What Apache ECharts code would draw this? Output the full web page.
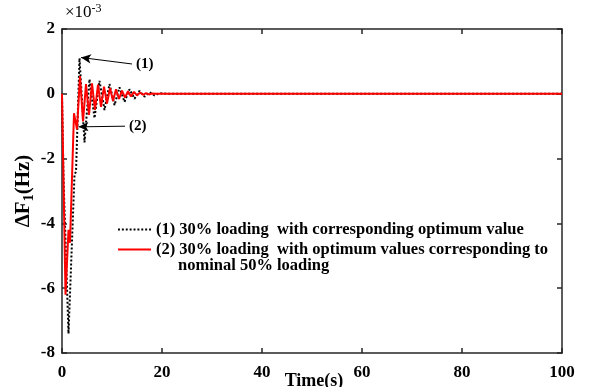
<!DOCTYPE html>
<html>
<head>
<meta charset="utf-8">
<script src="https://cdn.jsdelivr.net/npm/echarts@6/dist/echarts.min.js"></script>
<style>html,body{margin:0;padding:0;background:#fff}#c{width:590px;height:387px}</style>
</head>
<body>
<div id="c"></div>
<script>
// Time (s) and ΔF1 (×10^-3 Hz)
var timeS1 = [0, 0.3, 1.3, 2.5, 2.8, 3.5, 4.5, 5.5, 6.5, 7.5, 8.5, 9.5, 10.5, 11.5, 12.5, 13.5, 14.5, 15.5, 16.5, 17.5, 18.5, 19.5, 21, 100];
var dF1_s1 = [0, -2.6, -7.4, -2.5, -2.4, 1.1, -1.5, 0.45, -0.75, 0.4, -0.5, 0.3, -0.35, 0.2, -0.25, 0.14, -0.15, 0.09, -0.09, 0.05, -0.05, 0.02, 0, 0];
var timeS2 = [0, 0.7, 1.3, 1.6, 2.4, 3.0, 3.6, 4.2, 4.8, 5.4, 6.0, 6.6, 7.2, 7.8, 8.4, 9.0, 9.6, 10.2, 10.8, 11.4, 12.0, 12.6, 13.2, 13.8, 14.4, 15.0, 15.6, 16.2, 16.8, 17.4, 18.0, 19, 100];
var dF1_s2 = [0, -6.2, -4.2, -4.6, -0.6, -1.1, 0.55, -0.85, 0.3, -0.65, 0.32, -0.5, 0.28, -0.4, 0.22, -0.3, 0.18, -0.22, 0.14, -0.16, 0.1, -0.12, 0.08, -0.08, 0.06, -0.05, 0.04, -0.03, 0.02, -0.02, 0.01, 0, 0];
var xTicks = [0, 20, 40, 60, 80, 100];
var yTicks = [-8, -6, -4, -2, 0, 2];
var seriesNames = ['(1) 30% loading  with corresponding optimum value', '(2) 30% loading  with optimum values corresponding to'];
var legendCont = 'nominal 50% loading';
var ann1 = {text: '(1)', from: [14, 0.92], to: [3.8, 1.12]};
var ann2 = {text: '(2)', from: [12.6, -1.0], to: [3.3, -1.02]};

function zip(a, b) { return a.map(function (v, i) { return [v, b[i]]; }); }
var FF = 'Liberation Serif';
var axisCol = '#262626';
var dotPath = 'path://';
for (var i = 0; i < 9; i++) dotPath += 'M' + (i * 4) + ',0h2v2h-2z';
var chart = echarts.init(document.getElementById('c'));
function arrowML(a) {
  return {
    silent: true, symbol: ['none', 'arrow'], symbolSize: [7, 10],
    lineStyle: {type: 'solid', color: '#000', width: 1},
    label: {show: true, position: 'start', formatter: a.text, distance: 4,
      fontFamily: FF, fontWeight: 'bold', fontSize: 15, color: '#000'},
    data: [[{coord: a.from}, {coord: a.to}]]
  };
}
var tickLbl = {fontFamily: FF, fontWeight: 'bold', fontSize: 17, color: '#000'};
chart.setOption({
  animation: false,
  grid: {left: 62, right: 28, top: 29, bottom: 34, outerBoundsMode: 'none', containLabel: false},
  xAxis: [{
    type: 'value', min: 0, max: 100, interval: 20,
    axisLine: {show: true, onZero: false, lineStyle: {color: axisCol, width: 1.5}},
    axisTick: {inside: true, length: 5, lineStyle: {color: axisCol, width: 1.5}},
    axisLabel: Object.assign({margin: 11}, tickLbl),
    splitLine: {show: false},
    name: 'Time(s)', nameLocation: 'middle', nameGap: 19, nameMoveOverlap: false,
    nameTextStyle: {fontFamily: FF, fontWeight: 'bold', fontSize: 18, color: '#000', padding: [0, 0, 0, 4]}
  }, {
    type: 'value', min: 0, max: 100, interval: 20, position: 'top',
    axisLine: {show: true, onZero: false, lineStyle: {color: axisCol, width: 1.5}},
    axisTick: {inside: true, length: 5, lineStyle: {color: axisCol, width: 1.5}},
    axisLabel: {show: false}, splitLine: {show: false}
  }],
  yAxis: [{
    type: 'value', min: -8, max: 2, interval: 2,
    axisLine: {show: true, onZero: false, lineStyle: {color: axisCol, width: 1.5}},
    axisTick: {show: true, inside: true, length: 5, lineStyle: {color: axisCol, width: 1.5}},
    axisLabel: Object.assign({margin: 7}, tickLbl),
    splitLine: {show: false},
    name: 'ΔF{sub|1}(Hz)', nameLocation: 'middle', nameGap: 26, nameRotate: 90, nameMoveOverlap: false,
    nameTextStyle: {fontFamily: FF, fontWeight: 'bold', fontSize: 21, color: '#000',
      rich: {sub: {fontFamily: FF, fontWeight: 'bold', fontSize: 14, color: '#000', verticalAlign: 'bottom', padding: [10, 0, 0, 0]}}}
  }, {
    type: 'value', min: -8, max: 2, interval: 2, position: 'right',
    axisLine: {show: true, onZero: false, lineStyle: {color: axisCol, width: 1.5}},
    axisTick: {show: true, inside: true, length: 5, lineStyle: {color: axisCol, width: 1.5}},
    axisLabel: {show: false}, splitLine: {show: false}
  }],
  legend: {
    orient: 'vertical', left: 118, top: 221, padding: 0, itemWidth: 33, itemHeight: 2, itemGap: 3,
    textStyle: {fontFamily: FF, fontWeight: 'bold', fontSize: 16.5, color: '#000'},
    data: [{name: seriesNames[0], icon: dotPath, itemStyle: {color: '#000'}},
           {name: seriesNames[1], icon: 'rect', itemStyle: {color: '#ff0000'}}]
  },
  series: [{
    name: seriesNames[0], type: 'line', showSymbol: false, symbol: 'none',
    data: zip(timeS1, dF1_s1),
    lineStyle: {type: 'dotted', color: '#000', width: 2}, itemStyle: {color: '#000'},
    markLine: arrowML(ann1)
  }, {
    name: seriesNames[1], type: 'line', showSymbol: false, symbol: 'none',
    data: zip(timeS2, dF1_s2),
    lineStyle: {type: 'solid', color: '#ff0000', width: 2}, itemStyle: {color: '#ff0000'},
    markLine: arrowML(ann2)
  }],
  graphic: [{
    type: 'text', left: 65, top: 3,
    style: {text: '×10{sup|-3}', fontFamily: FF, fontSize: 17, fill: '#000',
      rich: {sup: {fontFamily: FF, fontSize: 12, fill: '#000', verticalAlign: 'top', padding: [0, 0, 8, 0]}}}
  }, {
    type: 'text', left: 178, top: 257,
    style: {text: legendCont, fontFamily: FF, fontWeight: 'bold', fontSize: 16.5, fill: '#000'}
  }]
});
</script>
</body>
</html>
